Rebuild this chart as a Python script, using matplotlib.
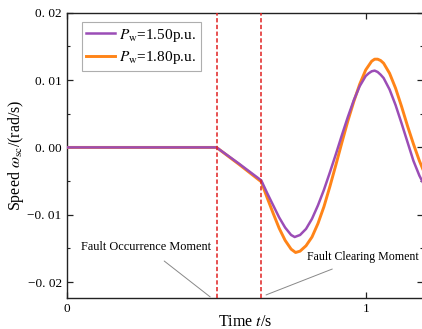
import matplotlib
matplotlib.use("Agg")
import matplotlib.pyplot as plt
from matplotlib.ticker import FixedLocator, FixedFormatter, MultipleLocator

plt.rcParams['font.family'] = ['Liberation Serif', 'DejaVu Serif']
plt.rcParams['mathtext.fontset'] = 'stix'

# ---- data ----
t_purple = [0.0, 0.5, 0.575, 0.65, 0.67, 0.69, 0.71, 0.73, 0.75, 0.762, 0.78, 0.80, 0.82,
            0.84, 0.86, 0.88, 0.90, 0.92, 0.94, 0.96, 0.98, 1.00, 1.01, 1.02, 1.03, 1.04,
            1.05, 1.06, 1.08, 1.10, 1.12, 1.14, 1.16, 1.18, 1.195]
w_purple = [0.0, 0.0, -0.0024, -0.0049, -0.0068, -0.0086, -0.0104, -0.0119, -0.0130, -0.0133,
            -0.0130, -0.0121, -0.0106, -0.0086, -0.0063, -0.0037, -0.0010, 0.0018, 0.0045,
            0.0070, 0.0091, 0.0106, 0.0110, 0.0113, 0.0114, 0.0112, 0.0108, 0.0103, 0.0086,
            0.0063, 0.0036, 0.0008, -0.0020, -0.0042, -0.0055]

t_orange = [0.0, 0.5, 0.575, 0.65, 0.67, 0.69, 0.71, 0.73, 0.75, 0.765, 0.78, 0.80, 0.82,
            0.84, 0.86, 0.88, 0.90, 0.92, 0.94, 0.96, 0.98, 1.00, 1.02, 1.03, 1.04, 1.05,
            1.06, 1.08, 1.10, 1.12, 1.14, 1.16, 1.18, 1.195]
w_orange = [0.0, 0.0, -0.0025, -0.0051, -0.0075, -0.0098, -0.0120, -0.0138, -0.0151, -0.0156,
            -0.0154, -0.0146, -0.0133, -0.0113, -0.0088, -0.0058, -0.0026, 0.0007, 0.0039,
            0.0068, 0.0094, 0.0115, 0.0128, 0.0131, 0.0131, 0.0129, 0.0125, 0.0110, 0.0088,
            0.0061, 0.0032, 0.0005, -0.0020, -0.0036]

labels = [r'$P_{\rm w}$=1.50p.u.', r'$P_{\rm w}$=1.80p.u.']
fault_times = [0.5, 0.65]
y_ticks = [-0.02, -0.01, 0.0, 0.01, 0.02]
y_ticklabels = ['\u22120. 02', '\u22120. 01', '0. 00', '0. 01', '0. 02']
x_ticks = [0, 1]
x_ticklabels = ['0', '1']

# ---- figure ----
fig = plt.figure(figsize=(4.22, 3.29), dpi=100)
ax = fig.add_axes([67.3 / 422, 1 - 298.3 / 329, (423 - 67.3) / 422, (298.3 - 12.7) / 329])

purple = '#9B4DB6'
orange = '#FF8418'

ax.plot(t_purple, w_purple, color=purple, lw=1.8, label=labels[0], zorder=4,
        solid_joinstyle='round')
ax.plot(t_orange, w_orange, color=orange, lw=2.1, label=labels[1], zorder=3,
        solid_joinstyle='round')

for ft in fault_times:
    ax.axvline(ft, color='#E02020', lw=1.1, ls=(0, (2.8, 1.6)), zorder=5)

ax.set_xlim(0, 1.192)
ax.set_ylim(-0.0224, 0.02)

ax.xaxis.set_major_locator(FixedLocator(x_ticks))
ax.xaxis.set_major_formatter(FixedFormatter(x_ticklabels))
ax.yaxis.set_major_locator(FixedLocator(y_ticks))
ax.yaxis.set_major_formatter(FixedFormatter(y_ticklabels))
ax.yaxis.set_minor_locator(MultipleLocator(0.005))

ax.tick_params(which='both', direction='in', top=True, right=True, labelsize=9.5, color='#222222')
ax.tick_params(which='major', length=4, width=0.9)
ax.tick_params(which='minor', length=2.2, width=0.8)
ax.tick_params(axis='y', pad=4)
ax.tick_params(axis='x', pad=3.5)
for s in ax.spines.values():
    s.set_linewidth(1.0)
    s.set_color('#222222')

ax.set_xlabel(r'Time $t$/s', fontsize=11.5, labelpad=-1)
ax.set_ylabel(r'Speed $\omega_{\rm sc}$/(rad/s)', fontsize=11.5, labelpad=1)

leg = ax.legend(loc='upper left', bbox_to_anchor=(0.041, 0.967), borderaxespad=0,
                fontsize=11, frameon=True, fancybox=False, edgecolor='#9a9a9a',
                handlelength=1.9, handletextpad=0.25, borderpad=0.3, labelspacing=0.35)
leg.get_frame().set_linewidth(0.8)

ax.annotate('Fault Occurrence Moment', xy=(0.479, -0.0222), xytext=(0.265, -0.0148),
            ha='center', va='center', fontsize=8.8,
            arrowprops=dict(arrowstyle='-', color='#888888', lw=0.7, shrinkA=6, shrinkB=0))
ax.annotate('Fault Clearing Moment', xy=(0.666, -0.0219), xytext=(0.802, -0.0163),
            ha='left', va='center', fontsize=8.6,
            arrowprops=dict(arrowstyle='-', color='#888888', lw=0.7, shrinkA=6, shrinkB=0))

fig.savefig('out.png', dpi=100)
